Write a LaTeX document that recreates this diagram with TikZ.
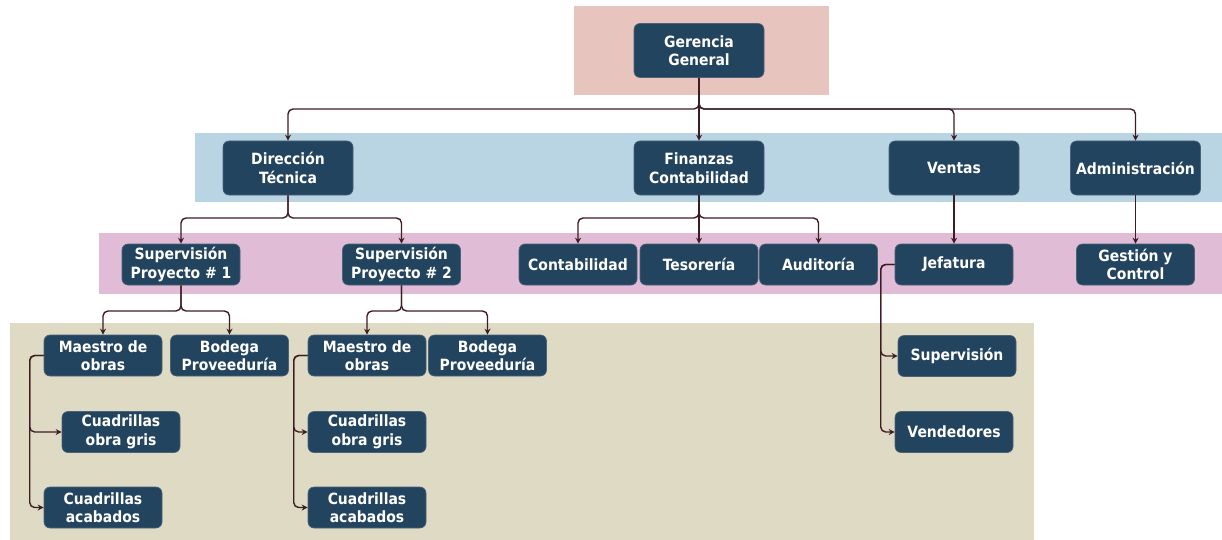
\documentclass[tikz,border=0pt]{standalone}
\usepackage{fontspec}
\setmainfont{DejaVu Sans}[FakeStretch=0.9]
\usetikzlibrary{arrows.meta}
\definecolor{boxfill}{HTML}{23445E}
\definecolor{boxedge}{HTML}{4A6378}
\definecolor{linec}{HTML}{3E1C24}
\definecolor{bandpink}{HTML}{E7C4BE}
\definecolor{bandblue}{HTML}{B9D4E3}
\definecolor{bandpurple}{HTML}{E0BCD6}
\definecolor{bandkhaki}{HTML}{DEDAC4}
\begin{document}
\begin{tikzpicture}[x=1pt,y=-1pt,
  box/.style={rectangle, rounded corners=6pt, fill=boxfill, draw=boxedge, line width=0.6pt,
    text=white, font=\bfseries\fontsize{15.5}{18.5}\selectfont, align=center, inner sep=0pt},
  bigbox/.style={box, minimum width=130pt, minimum height=54pt},
  smallbox/.style={box, minimum width=118pt, minimum height=41pt},
  conn/.style={draw=linec, line width=1.4pt, rounded corners=5pt,
    -{Stealth[length=6pt,width=6pt]}}]
\useasboundingbox (0,0) rectangle (1222,540);
% bands
\fill[bandpink] (574,6) rectangle (829,95);
\fill[bandblue] (195,133) rectangle (1222,202);
\fill[bandpurple] (99,233) rectangle (1222,294);
\fill[bandkhaki] (10,323) rectangle (1034,540);
% bus coordinates
\coordinate (busA) at (0,109);
\coordinate (busB) at (0,218);
\coordinate (busC) at (0,311);
% nodes
\node[bigbox] (G) at (699,50.5) {Gerencia\\General};
\node[bigbox] (DT) at (288,168) {Dirección\\Técnica};
\node[bigbox] (FC) at (699,168) {Finanzas\\Contabilidad};
\node[bigbox] (V) at (954,168) {Ventas};
\node[bigbox] (A) at (1135.5,168) {Administración};
\node[smallbox] (SP1) at (181,264.5) {Supervisión\\Proyecto \# 1};
\node[smallbox] (SP2) at (401.5,264.5) {Supervisión\\Proyecto \# 2};
\node[smallbox] (Cont) at (578,264.5) {Contabilidad};
\node[smallbox] (Tes) at (699,264.5) {Tesorería};
\node[smallbox] (Aud) at (818.5,264.5) {Auditoría};
\node[smallbox] (Jef) at (954,264.5) {Jefatura};
\node[smallbox] (GC) at (1135.5,264.5) {Gestión y\\Control};
\node[smallbox] (M1) at (103,355.5) {Maestro de\\obras};
\node[smallbox] (B1) at (229.5,355.5) {Bodega\\Proveeduría};
\node[smallbox] (M2) at (367,355.5) {Maestro de\\obras};
\node[smallbox] (B2) at (487.5,355.5) {Bodega\\Proveeduría};
\node[smallbox] (CG1) at (121,432) {Cuadrillas\\obra gris};
\node[smallbox] (CA1) at (103,507.5) {Cuadrillas\\acabados};
\node[smallbox] (CG2) at (367,432) {Cuadrillas\\obra gris};
\node[smallbox] (CA2) at (367,507.5) {Cuadrillas\\acabados};
\node[smallbox] (S) at (957,356) {Supervisión};
\node[smallbox] (Ven) at (954,432) {Vendedores};
% connectors level 1
\draw[conn] (G.south) |- (DT.north |- busA) -- (DT.north);
\draw[conn] (G.south) -- (FC.north);
\draw[conn] (G.south) |- (V.north |- busA) -- (V.north);
\draw[conn] (G.south) |- (A.north |- busA) -- (A.north);
% level 2
\draw[conn] (DT.south) |- (SP1.north |- busB) -- (SP1.north);
\draw[conn] (DT.south) |- (SP2.north |- busB) -- (SP2.north);
\draw[conn] (FC.south) |- (Cont.north |- busB) -- (Cont.north);
\draw[conn] (FC.south) -- (Tes.north);
\draw[conn] (FC.south) |- (Aud.north |- busB) -- (Aud.north);
\draw[conn] (V.south) -- (Jef.north);
\draw[conn] (A.south) -- (GC.north);
% level 3
\draw[conn] (SP1.south) |- (M1.north |- busC) -- (M1.north);
\draw[conn] (SP1.south) |- (B1.north |- busC) -- (B1.north);
\draw[conn] (SP2.south) |- (M2.north |- busC) -- (M2.north);
\draw[conn] (SP2.south) |- (B2.north |- busC) -- (B2.north);
% side branches
\draw[conn] (M1.west) -| ([xshift=-14pt]M1.west |- CG1.west) -- (CG1.west);
\draw[conn] (M1.west) -| ([xshift=-14pt]M1.west |- CA1.west) -- (CA1.west);
\draw[conn] (M2.west) -| ([xshift=-14pt]M2.west |- CG2.west) -- (CG2.west);
\draw[conn] (M2.west) -| ([xshift=-14pt]M2.west |- CA2.west) -- (CA2.west);
\draw[conn] (Jef.west) -| ([xshift=-14pt]Jef.west |- S.west) -- (S.west);
\draw[conn] (Jef.west) -| ([xshift=-14pt]Jef.west |- Ven.west) -- (Ven.west);
\end{tikzpicture}
\end{document}
